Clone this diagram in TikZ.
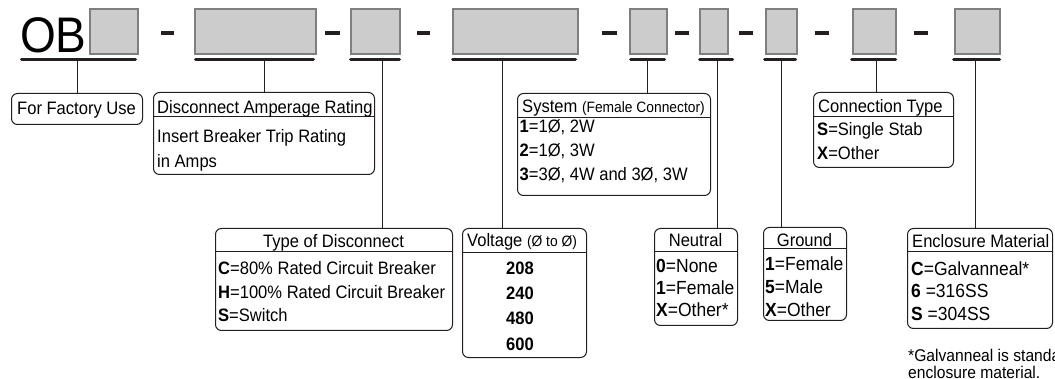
\documentclass[tikz,border=0pt]{standalone}
\usepackage{fontspec}
\setmainfont[FakeStretch=0.92]{Liberation Sans}
\usetikzlibrary{positioning}
\definecolor{slotfill}{HTML}{CCCCCC}
\definecolor{slotedge}{HTML}{7F7F7F}
\definecolor{ink}{HTML}{231F20}

\begin{document}
\begin{tikzpicture}[x=1pt, y=-1pt,
    slot/.style={draw=slotedge, line width=2pt, fill=slotfill, inner sep=0pt, minimum height=45pt, anchor=north west},
    bar/.style={ink, line width=3pt, line cap=round},
    dashmark/.style={ink, line width=3.5pt},
    lead/.style={ink, line width=1pt},
    frame/.style={draw=ink, line width=1pt, rounded corners=6pt, inner sep=0pt, anchor=north west},
    rule/.style={ink, line width=1pt},
    head/.style={font=\fontsize{18}{18}\selectfont, inner sep=0pt, anchor=base west},
    body/.style={font=\fontsize{18}{24}\selectfont, inner sep=0pt, align=left, anchor=north west}
]
\useasboundingbox (0,0) rectangle (1055,379);

% part number slots
\node[font=\fontsize{50}{50}\selectfont, inner sep=0pt, anchor=base west] (ob) at (20,52.5) {OB};
\node[slot, minimum width=48pt] (s1) at (89,8.5) {};
\node[slot, minimum width=121pt] (s2) at (194,8.5) {};
\node[slot, minimum width=49pt] (s3) at (350,8.5) {};
\node[slot, minimum width=125pt] (s4) at (452,8.5) {};
\node[slot, minimum width=37pt] (s5) at (629,8.5) {};
\node[slot, minimum width=28pt] (s6) at (699,8.5) {};
\node[slot, minimum width=31pt] (s7) at (765,8.5) {};
\node[slot, minimum width=43pt] (s8) at (852,8.5) {};
\node[slot, minimum width=45pt] (s9) at (954,8.5) {};

\draw[dashmark] (161,33) -- (174,33);
\draw[dashmark] (325,33) -- (340,33);
\draw[dashmark] (417,33) -- (430,33);
\draw[dashmark] (602,33) -- (617,33);
\draw[dashmark] (675,33) -- (689,33);
\draw[dashmark] (739,33) -- (753,33);
\draw[dashmark] (815,33) -- (829,33);
\draw[dashmark] (914,33) -- (928,33);

\draw[bar] (21.5,60) -- (135.5,60);
\draw[bar] (195.5,60) -- (313.5,60);
\draw[bar] (350.5,60) -- (399.5,60);
\draw[bar] (452.5,60) -- (575.5,60);
\draw[bar] (630.5,60) -- (664.5,60);
\draw[bar] (699.5,60) -- (732.5,60);
\draw[bar] (764.5,60) -- (795.5,60);
\draw[bar] (851.5,60) -- (895.5,60);
\draw[bar] (953.5,60) -- (999.5,60);

\coordinate (t1) at (77,61.5);
\coordinate (t2) at (264,61.5);
\coordinate (t3) at (382,61.5);
\coordinate (t4) at (502,61.5);
\coordinate (t5) at (647,61.5);
\coordinate (t6) at (717,61.5);
\coordinate (t7) at (781,61.5);
\coordinate (t8) at (876,61.5);
\coordinate (t9) at (975,61.5);

% legend boxes, upper row
\node[frame, minimum width=131pt, minimum height=31pt] (fac) at (11,93) {};
\node[head] (facT) at (17,114.5) {For Factory Use};

\node[frame, minimum width=221pt, minimum height=82pt] (amp) at (153,92) {};
\draw[rule] (153,117) -- (374,117);
\node[head] (ampH) at (157,113.5) {Disconnect Amperage Rating};
\node[body, font=\fontsize{18}{25}\selectfont] (ampB) at (157,128.8) {Insert Breaker Trip Rating\\in Amps};

\node[frame, minimum width=193pt, minimum height=102pt] (sys) at (517,93) {};
\draw[rule] (517,117.5) -- (710,117.5);
\node[head] (sysH) at (522,112.8) {System {\fontsize{15}{15}\selectfont (Female Connector)}};
\node[body] (sysB) at (519.5,119.5) {\textbf{1}=1Ø, 2W\\\textbf{2}=1Ø, 3W\\\textbf{3}=3Ø, 4W and 3Ø, 3W};

\node[frame, minimum width=140pt, minimum height=75pt] (con) at (813,92) {};
\draw[rule] (813,117) -- (953,117);
\node[head] (conH) at (818,112.5) {Connection Type};
\node[body] (conB) at (817,122.5) {\textbf{S}=Single Stab\\\textbf{X}=Other};

% legend boxes, lower row
\node[frame, minimum width=237pt, minimum height=102pt] (typ) at (215,228) {};
\draw[rule] (215,252) -- (452,252);
\node[head, anchor=base] (typH) at (333.5,247.5) {Type of Disconnect};
\node[body, font=\fontsize{18}{23.6}\selectfont] (typB) at (218,261.5) {\textbf{C}=80\% Rated Circuit Breaker\\\textbf{H}=100\% Rated Circuit Breaker\\\textbf{S}=Switch};

\node[frame, minimum width=124pt, minimum height=129pt] (vol) at (462,228) {};
\draw[rule] (462,253) -- (586,253);
\node[head] (volH) at (467,246.5) {Voltage {\fontsize{15}{15}\selectfont (Ø to Ø)}};
\node[body, font=\fontsize{18}{25.3}\selectfont\bfseries, align=center, anchor=north] (volB) at (520,261.5) {208\\240\\480\\600};

\node[frame, minimum width=83pt, minimum height=97pt] (neu) at (654,228) {};
\draw[rule] (654,252) -- (737,252);
\node[head, anchor=base] (neuH) at (695.5,247) {Neutral};
\node[body, font=\fontsize{19}{22}\selectfont] (neuB) at (656,259.2) {\textbf{0}=None\\\textbf{1}=Female\\\textbf{X}=Other*};

\node[frame, minimum width=83pt, minimum height=93pt] (gnd) at (763,227) {};
\draw[rule] (763,249) -- (846,249);
\node[head, anchor=base] (gndH) at (804.5,246.5) {Ground};
\node[body, font=\fontsize{19}{23}\selectfont] (gndB) at (765,256.2) {\textbf{1}=Female\\\textbf{5}=Male\\\textbf{X}=Other};

\node[frame, minimum width=145pt, minimum height=100pt] (enc) at (907,228) {};
\draw[rule] (907,252) -- (1052,252);
\node[head] (encH) at (912,247.5) {Enclosure Material};
\node[body, font=\fontsize{19}{22.5}\selectfont] (encB) at (911,261.2) {\textbf{C}=Galvanneal*\\\textbf{6} =316SS\\\textbf{S} =304SS};
\node[body, font=\fontsize{17}{17}\selectfont] (note) at (908,348.9) {*Galvanneal is standard\\enclosure material.};

% leads from the bars down to the boxes
\draw[lead] (t1) -- (t1 |- fac.north);
\draw[lead] (t2) -- (t2 |- amp.north);
\draw[lead] (t3) -- (t3 |- typ.north);
\draw[lead] (t4) -- (t4 |- vol.north);
\draw[lead] (t5) -- (t5 |- sys.north);
\draw[lead] (t6) -- (t6 |- neu.north);
\draw[lead] (t7) -- (t7 |- gnd.north);
\draw[lead] (t8) -- (t8 |- con.north);
\draw[lead] (t9) -- (t9 |- enc.north);
\end{tikzpicture}
\end{document}
